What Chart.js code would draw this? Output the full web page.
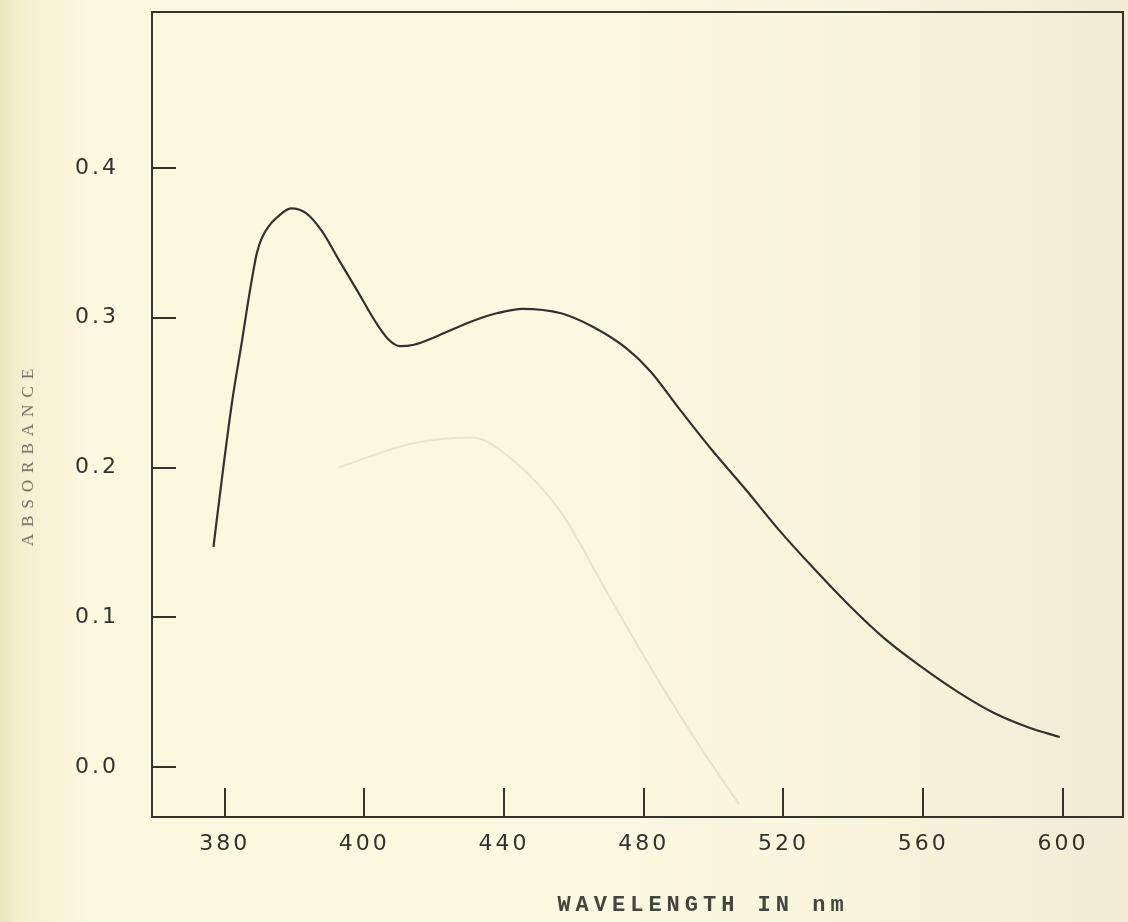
<!DOCTYPE html>
<html><head><meta charset="utf-8">
<script src="https://cdn.jsdelivr.net/npm/chart.js@4.4.1/dist/chart.umd.min.js"></script>
<style>
html,body{margin:0;padding:0;}
body{width:1128px;height:922px;overflow:hidden;background:linear-gradient(to right,#ebe5bf 0px,#f5f0d0 22px,#fbf8e0 90px,#fbf8e1 600px,#f7f3db 900px,#f1ecd5 1128px);}
#wrap{position:relative;width:1128px;height:922px;}
#c{position:absolute;left:0;top:0;}
.ytitle{position:absolute;left:28px;top:454px;transform:translate(-50%,-50%) rotate(-90deg);font-family:"Liberation Serif",serif;font-size:17px;letter-spacing:7px;color:#6c6c62;white-space:nowrap;}
.xtitle{position:absolute;left:703px;top:905px;transform:translate(-50%,-50%);font-family:"Liberation Mono",monospace;font-weight:bold;font-size:22px;letter-spacing:5px;color:#45453e;white-space:nowrap;}
</style></head>
<body><div id="wrap"><canvas id="c" width="1128" height="922"></canvas>
<div class="ytitle">ABSORBANCE</div><div class="xtitle">WAVELENGTH IN nm</div></div>
<script>
// Tick labels as drawn on the original (hand-drawn) axis
const xTickLabels = [380, 400, 440, 480, 520, 560, 600];
const yTickValues = [0.0, 0.1, 0.2, 0.3, 0.4];

// Absorbance spectrum
const wavelengthNm = [378.4, 379.7, 381.1, 382.5, 383.4, 384.1, 384.6, 385.3, 386.3, 387.5,
  389.5, 391.6, 393.9, 396.3, 399.0, 403.0, 406.7, 410.2, 414.2, 420.1,
  429.0, 433.6, 437.9, 445.2, 456.3, 465.4, 474.8, 482.0, 489.9, 499.4,
  509.3, 518.8, 528.9, 539.2, 549.3, 559.4, 570.0, 580.3, 590.6, 599.1];
const absorbance = [0.147, 0.196, 0.245, 0.285, 0.312, 0.331, 0.343, 0.353, 0.361, 0.367,
  0.373, 0.370, 0.358, 0.339, 0.318, 0.298, 0.286, 0.281, 0.282, 0.287,
  0.296, 0.300, 0.303, 0.306, 0.303, 0.294, 0.280, 0.264, 0.240, 0.212,
  0.185, 0.158, 0.132, 0.107, 0.085, 0.067, 0.050, 0.036, 0.026, 0.020];

// Faint curve showing through the paper
const ghostWavelengthNm = [396.3, 413.7, 430.9, 442.5, 456.3, 470.1, 484.1, 495.7, 507.3];
const ghostAbsorbance = [0.200, 0.216, 0.220, 0.205, 0.170, 0.114, 0.058, 0.015, -0.025];

// The axis is drawn with evenly spaced ticks, so place wavelengths piecewise between tick labels
function wlToIndex(w) {
  const t = xTickLabels;
  if (w <= t[0]) return (w - t[0]) / (t[1] - t[0]);
  for (let i = 0; i < t.length - 1; i++) {
    if (w <= t[i + 1]) return i + (w - t[i]) / (t[i + 1] - t[i]);
  }
  const n = t.length - 1;
  return n + (w - t[n]) / (t[n] - t[n - 1]);
}

const mainPoints = wavelengthNm.map((w, i) => ({ x: wlToIndex(w), y: absorbance[i] }));
const ghostPoints = ghostWavelengthNm.map((w, i) => ({ x: wlToIndex(w), y: ghostAbsorbance[i] }));

const ink = '#33332d';
const tickFont = { family: 'DejaVu Sans', size: 22 };

const framePlugin = {
  id: 'frame',
  beforeDraw(chart) { chart.ctx.letterSpacing = '3px'; },
  afterDatasetsDraw(chart) {
    const { ctx, chartArea: a, scales: { x, y } } = chart;
    ctx.save();
    ctx.strokeStyle = ink;
    ctx.lineWidth = 2;
    ctx.strokeRect(a.left, a.top, a.right - a.left, a.bottom - a.top);
    y.ticks.forEach(t => {
      const py = Math.round(y.getPixelForValue(t.value));
      ctx.beginPath(); ctx.moveTo(a.left, py); ctx.lineTo(a.left + 24, py); ctx.stroke();
    });
    x.ticks.forEach(t => {
      const px = Math.round(x.getPixelForValue(t.value));
      ctx.beginPath(); ctx.moveTo(px, a.bottom); ctx.lineTo(px, a.bottom - 29); ctx.stroke();
    });
    ctx.restore();
  }
};

new Chart(document.getElementById('c'), {
  type: 'line',
  data: {
    datasets: [
      { label: 'bleed', data: ghostPoints, borderColor: 'rgba(120,110,80,0.14)', borderWidth: 2,
        pointRadius: 0, cubicInterpolationMode: 'monotone', fill: false },
      { label: 'Absorbance', data: mainPoints, borderColor: ink, borderWidth: 2.2,
        pointRadius: 0, cubicInterpolationMode: 'monotone', fill: false }
    ]
  },
  options: {
    responsive: false,
    devicePixelRatio: 1,
    animation: false,
    layout: { padding: { top: 12, right: 5, left: 0, bottom: 0 } },
    plugins: { legend: { display: false }, tooltip: { enabled: false } },
    scales: {
      x: {
        type: 'linear', min: -0.52, max: 6.43,
        afterBuildTicks: s => { s.ticks = xTickLabels.map((_, i) => ({ value: i })); },
        afterFit: s => { s.height = 105; s.paddingLeft = 0; s.paddingRight = 0; },
        grid: { display: false, drawTicks: false },
        border: { display: false },
        ticks: { padding: 14, color: ink, font: tickFont, maxRotation: 0, autoSkip: false,
          callback: v => String(xTickLabels[v]) }
      },
      y: {
        type: 'linear', min: -0.0334, max: 0.5042,
        afterBuildTicks: s => { s.ticks = yTickValues.map(v => ({ value: v })); },
        afterFit: s => { s.width = 152; s.paddingTop = 0; s.paddingBottom = 0; },
        grid: { display: false, drawTicks: false },
        border: { display: false },
        ticks: { padding: 33, color: ink, font: tickFont, callback: v => Number(v).toFixed(1) }
      }
    }
  },
  plugins: [framePlugin]
});
</script>
</body></html>
